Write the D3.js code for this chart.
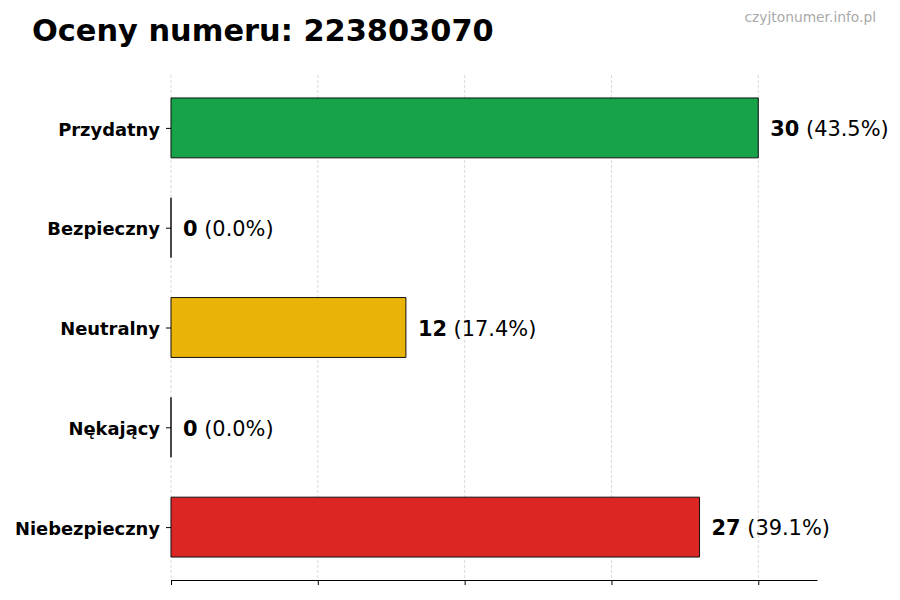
<!DOCTYPE html>
<html>
<head>
<meta charset="utf-8">
<script src="https://cdn.jsdelivr.net/npm/d3@7"></script>
<style>
  body { margin: 0; background: #fff; }
  text { font-family: "DejaVu Sans", sans-serif; }
</style>
</head>
<body>
<div id="chart"></div>
<script>
const categories = ["Przydatny", "Bezpieczny", "Neutralny", "Nękający", "Niebezpieczny"];
const counts = [30, 0, 12, 0, 27];
const percents = ["43.5%", "0.0%", "17.4%", "0.0%", "39.1%"];
const colors = ["#16a34a", "#6b7280", "#eab308", "#f97316", "#dc2626"];
const xTicks = [0, 7.5, 15, 22.5, 30];

const margin = {top: 75, right: 83, bottom: 20, left: 171},
    width = 900 - margin.left - margin.right,
    height = 600 - margin.top - margin.bottom;

const svg = d3.select("#chart")
  .append("svg")
    .attr("width", 900)
    .attr("height", 600);

// title + watermark
svg.append("text")
  .attr("x", 32).attr("y", 41)
  .style("font-size", "30.4px").style("font-weight", "bold")
  .text("Oceny numeru: 223803070");
svg.append("text")
  .attr("x", 876).attr("y", 22)
  .attr("text-anchor", "end")
  .style("font-size", "13.8px").style("fill", "#aaaaaa")
  .text("czyjtonumer.info.pl");

const g = svg.append("g")
  .attr("transform", `translate(${margin.left}, ${margin.top})`);

const x = d3.scaleLinear()
  .domain([0, 33])
  .range([0, width]);

// index scale so bar height is 0.6 of the step
const y = d3.scaleLinear()
  .domain([-0.53, categories.length - 1 + 0.53])
  .range([0, height]);

// grid
g.selectAll(".grid")
  .data(xTicks)
  .join("line")
    .attr("class", "grid")
    .attr("x1", d => x(d)).attr("x2", d => x(d))
    .attr("y1", 0).attr("y2", height)
    .attr("stroke", "#d0d0d0")
    .attr("stroke-width", 0.8)
    .attr("stroke-dasharray", "3,2");

// bars (paths so zero-count bars still show their edge)
g.selectAll(".bar")
  .data(counts)
  .join("path")
    .attr("class", "bar")
    .attr("d", (d, i) => {
      const y0 = y(i - 0.3), y1 = y(i + 0.3), x0 = x(0), x1 = x(d);
      return `M${x0},${y0}H${x1}V${y1}H${x0}Z`;
    })
    .attr("fill", (d, i) => colors[i])
    .attr("stroke", "#111")
    .attr("stroke-width", 1);

// value labels
const lab = g.selectAll(".val")
  .data(counts)
  .join("text")
    .attr("class", "val")
    .attr("x", d => x(d) + 12)
    .attr("y", (d, i) => y(i) + 1)
    .attr("dy", "0.35em")
    .style("font-size", "20.9px");
lab.append("tspan").style("font-weight", "bold").text(d => d);
lab.append("tspan").text((d, i) => " (" + percents[i] + ")");

// y axis (ticks only, no spine)
const yAxis = g.append("g")
  .call(d3.axisLeft(y).tickValues(d3.range(categories.length))
    .tickFormat(i => categories[i]).tickSize(5).tickPadding(6));
yAxis.select(".domain").remove();
yAxis.selectAll("text")
  .attr("dy", "0.4em")
  .style("font-size", "17.9px").style("font-weight", "bold")
  .style("font-family", "DejaVu Sans, sans-serif").attr("fill", "#000");

// x axis (ticks, no labels)
const xAxis = g.append("g")
  .attr("transform", `translate(0, ${height})`)
  .call(d3.axisBottom(x).tickValues(xTicks).tickFormat("").tickSize(5).tickSizeOuter(0));
xAxis.select(".domain").attr("stroke", "#000").attr("stroke-width", 1);
</script>
</body>
</html>
